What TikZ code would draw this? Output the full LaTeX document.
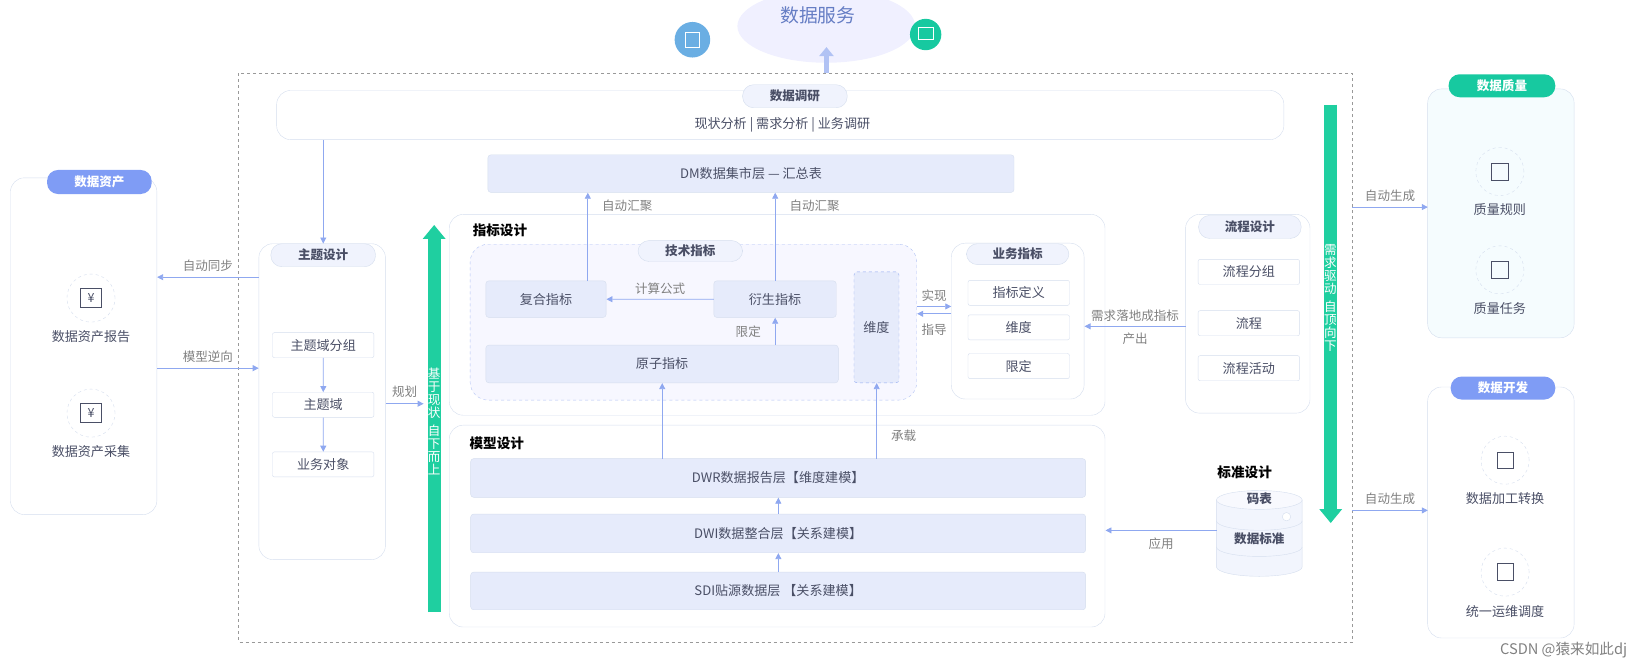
\documentclass[tikz,border=0pt]{standalone}
\usepackage{fontspec}
\setmainfont{Noto Sans CJK SC}
\usetikzlibrary{arrows.meta}
\definecolor{ln}{HTML}{8FA8F0}
\definecolor{bd}{HTML}{D5DEEE}
\definecolor{fillb}{HTML}{E6EBFB}
\definecolor{tx}{HTML}{4A4F66}
\definecolor{gr}{HTML}{1FCFA0}
\definecolor{pillb}{HTML}{7F9CF5}
\definecolor{teal}{HTML}{17C9A0}
\begin{document}
\begin{tikzpicture}[x=1pt,y=-1pt,scale=1.0459,every node/.style={transform shape},
  font=\fontsize{12.5}{14}\selectfont,text=tx,
  panel/.style={draw=bd,rounded corners=14pt,fill=white},
  pill/.style={draw=bd,fill=fillb!60,rounded corners=11pt,minimum height=22pt,minimum width=100pt,font=\fontsize{12}{14}\selectfont\bfseries},
  box/.style={draw=bd,fill=fillb,rounded corners=3pt},
  item/.style={draw=bd,fill=white,rounded corners=2pt,minimum width=97pt,minimum height=24pt},
  arr/.style={draw=ln,thick,-{Triangle[width=6pt,length=6pt]}},
  lbl/.style={text=gray,font=\fontsize{12}{14}\selectfont},
  ttl/.style={font=\fontsize{13}{15}\selectfont\bfseries,text=black},
  vtx/.style={text=white,align=center,font=\fontsize{12}{12.5}\selectfont},
  ico/.style={circle,draw=bd,dashed,minimum size=46pt}]
\useasboundingbox (0,0) rectangle (1568,639);
% top cloud
\fill[blue!6] (790,25) ellipse [x radius=85pt,y radius=35pt];
\node[text=pillb!80!black,font=\fontsize{18}{20}\selectfont] (svc) at (782,15) {数据服务};
\node[circle,fill=cyan!70!blue!60,minimum size=34pt] (c1) at (662,38) {};
\node[circle,fill=teal,minimum size=30pt] (c2) at (885,33) {};
\draw[white,thick] (655,31) rectangle (669,45);
\draw[white,thick] (878,26) rectangle (892,38);
\coordinate (cb) at (790,70);
\coordinate (ct) at (790,45);
\draw[draw=ln!70,line width=5pt,-{Triangle[width=14pt,length=9pt]}] (cb) -- (ct);
% outer dashed
\draw[dashed,gray!80] (228,70) rectangle (1293,614);
% 数据调研
\node[panel,minimum width=963pt,minimum height=47pt] (dy) at (746,110) {};
\node[pill] (dyp) at (760,92) {数据调研};
\node (dyt) at (748,119) {现状分析 | 需求分析 | 业务调研};
% DM
\node[box,minimum width=503pt,minimum height=36pt] (dm) at (718,166) {DM数据集市层 — 汇总表};
% 指标设计
\node[panel,minimum width=627pt,minimum height=192pt] (zb) at (743,301) {};
\node[ttl] (zbt) at (478,220) {指标设计};
\node[draw=ln!70,dashed,rounded corners=18pt,fill=blue!3,minimum width=427pt,minimum height=149pt] (js) at (663,308) {};
\node[pill,minimum height=20pt] (jsp) at (660,240) {技术指标};
\node[box,minimum width=115pt,minimum height=35pt] (fh) at (522,286) {复合指标};
\node[box,minimum width=117pt,minimum height=35pt] (ys) at (741,286) {衍生指标};
\node[box,minimum width=337pt,minimum height=36pt] (yz) at (633,348) {原子指标};
\node[box,dashed,draw=ln,minimum width=43pt,minimum height=106pt] (wd) at (838,313) {维度};
% 业务指标
\node[panel,minimum width=127pt,minimum height=149pt] (yw) at (973,307) {};
\node[pill,minimum width=98pt,minimum height=20pt] (ywp) at (973,243) {业务指标};
\node[item] (y1) at (974,280) {指标定义};
\node[item] (y2) at (974,313) {维度};
\node[item] (y3) at (974,350) {限定};
% 流程设计
\node[panel,minimum width=119pt,minimum height=190pt] (lc) at (1193,300) {};
\node[pill,minimum width=98pt,minimum height=22pt] (lcp) at (1195,217) {流程设计};
\node[item] (l1) at (1194,260) {流程分组};
\node[item] (l2) at (1194,309) {流程};
\node[item] (l3) at (1194,352) {流程活动};
% 主题设计
\node[panel,minimum width=121pt,minimum height=302pt] (zt) at (308,384) {};
\node[pill,minimum width=100pt,minimum height=22pt] (ztp) at (309,244) {主题设计};
\node[item] (z1) at (309,330) {主题域分组};
\node[item] (z2) at (309,387) {主题域};
\node[item] (z3) at (309,444) {业务对象};
% 模型设计
\node[panel,minimum width=627pt,minimum height=193pt] (mx) at (743,503) {};
\node[ttl] (mxt) at (475,424) {模型设计};
\node[box,minimum width=588pt,minimum height=37pt] (dwr) at (744,457) {DWR数据报告层【维度建模】};
\node[box,minimum width=588pt,minimum height=37pt] (dwi) at (744,510) {DWI数据整合层【关系建模】};
\node[box,minimum width=588pt,minimum height=36pt] (sdi) at (744,565) {SDI贴源数据层 【关系建模】};
% 标准设计 (cylinder drawn directly)
\node[ttl] (bzt) at (1190,452) {标准设计};
\draw[draw=bd,fill=fillb!50] (1163,478) -- (1163,542) arc[start angle=180,end angle=360,x radius=41pt,y radius=9pt] -- (1245,478);
\draw[draw=bd,fill=fillb!30] (1204,478) ellipse [x radius=41pt,y radius=9pt];
\draw[draw=bd] (1163,498) arc[start angle=180,end angle=360,x radius=41pt,y radius=9pt];
\draw[draw=bd] (1163,523) arc[start angle=180,end angle=360,x radius=41pt,y radius=9pt];
\draw[draw=bd,fill=white] (1230,494) circle (4pt);
\node[font=\fontsize{12}{14}\selectfont\bfseries] (mb) at (1204,477) {码表};
\node[font=\fontsize{12}{14}\selectfont\bfseries] (sjbz) at (1204,515) {数据标准};
\coordinate (cylw) at (1163,507);
% green arrows
\coordinate (ga1) at (415,585); \coordinate (ga2) at (415,215);
\draw[gr,line width=13pt,-{Triangle[width=22pt,length=14pt]}] (ga1) -- (ga2);
\node[vtx] (gt1) at (415,403) {基\\于\\现\\状\\[4pt]自\\下\\而\\上};
\coordinate (gb1) at (1272,100); \coordinate (gb2) at (1272,500);
\draw[gr,line width=13pt,-{Triangle[width=22pt,length=14pt]}] (gb1) -- (gb2);
\node[vtx] (gt2) at (1272,285) {需\\求\\驱\\动\\[4pt]自\\顶\\向\\下};
% 数据资产
\node[panel,minimum width=140pt,minimum height=322pt] (zc) at (80,331) {};
\node[fill=pillb,rounded corners=11pt,minimum width=100pt,minimum height=23pt,text=white,font=\fontsize{12}{14}\selectfont\bfseries] (zcp) at (95,174) {数据资产};
\node[ico] (i1) at (87,285) {\fontsize{12}{12}\selectfont ¥};
\node (i1t) at (87,322) {数据资产报告};
\node[ico] (i2) at (87,395) {\fontsize{12}{12}\selectfont ¥};
\node (i2t) at (87,432) {数据资产采集};
% 数据质量
\node[panel,fill=cyan!4,minimum width=140pt,minimum height=238pt] (zl) at (1435,204) {};
\node[fill=teal,rounded corners=11pt,minimum width=102pt,minimum height=22pt,text=white,font=\fontsize{12}{14}\selectfont\bfseries] (zlp) at (1436,82) {数据质量};
\node[ico] (q1) at (1434,164) {};
\node (q1t) at (1434,200) {质量规则};
\node[ico] (q2) at (1434,258) {};
\node (q2t) at (1434,295) {质量任务};
% 数据开发
\node[panel,minimum width=140pt,minimum height=240pt] (kf) at (1435,490) {};
\node[fill=pillb,rounded corners=11pt,minimum width=100pt,minimum height=22pt,text=white,font=\fontsize{12}{14}\selectfont\bfseries] (kfp) at (1437,371) {数据开发};
\node[ico] (d1) at (1439,440) {};
\node (d1t) at (1439,477) {数据加工转换};
\node[ico] (d2) at (1439,547) {};
\node (d2t) at (1439,585) {统一运维调度};
\foreach \n in {q1,q2,d1,d2} \draw[tx,thick] ([shift={(-8,-8)}]\n.center) rectangle ([shift={(8,8)}]\n.center);
\foreach \n in {i1,i2} \draw[tx,thick] ([shift={(-10,-9)}]\n.center) rectangle ([shift={(10,9)}]\n.center);
% connectors
\draw[arr] (dy.south -| ztp) -- (ztp.north);
\draw[arr] (z1) -- (z2);
\draw[arr] (z2) -- (z3);
\draw[arr] (zt.west |- 0,265) -- (zc.east |- 0,265) node[lbl,midway,above=2pt] {自动同步};
\draw[arr] (zc.east |- 0,352) -- (zt.west |- 0,352) node[lbl,midway,above=2pt] {模型逆向};
\draw[arr] (zt.east |- 0,386) -- (405,386) node[lbl,midway,above=2pt] {规划};
\draw[arr] (fh.north -| 562,0) -- (dm.south -| 562,0) node[lbl,pos=0.85,right=10pt] {自动汇聚};
\draw[arr] (ys.north) -- (dm.south -| ys) node[lbl,pos=0.85,right=10pt] {自动汇聚};
\draw[arr] (ys) -- (fh) node[lbl,midway,above=1pt] {计算公式};
\draw[arr] (yz.north -| ys) -- (ys.south) node[lbl,midway,left=10pt] {限定};
\draw[arr] (dwr.north -| yz) -- (yz.south);
\draw[arr] (dwr.north -| wd) -- (wd.south) node[lbl,pos=0.3,right=10pt] {承载};
\draw[arr] (js.east |- 0,293) -- (yw.west |- 0,293) node[lbl,midway,above=1pt] {实现};
\draw[arr] (yw.west |- 0,300) -- (js.east |- 0,300) node[lbl,midway,below=6pt] {指导};
\draw[arr] (lc.west |- 0,312) -- (yw.east |- 0,312) node[lbl,midway,above=1pt] {需求落地成指标} node[lbl,midway,below=3pt] {产出};
\draw[arr] (cylw) -- (mx.east |- cylw) node[lbl,midway,below=3pt] {应用};
\draw[arr] (dwi.north) -- (dwr.south);
\draw[arr] (sdi.north) -- (dwi.south);
\draw[arr] (1293,198) -- (zl.west |- 0,198) node[lbl,midway,above=2pt] {自动生成};
\draw[arr] (1293,488) -- (kf.west |- 0,488) node[lbl,midway,above=2pt] {自动生成};
\node[text=gray,font=\fontsize{14}{16}\selectfont] (wm) at (1495,622) {CSDN @猿来如此dj};
\end{tikzpicture}
\end{document}
